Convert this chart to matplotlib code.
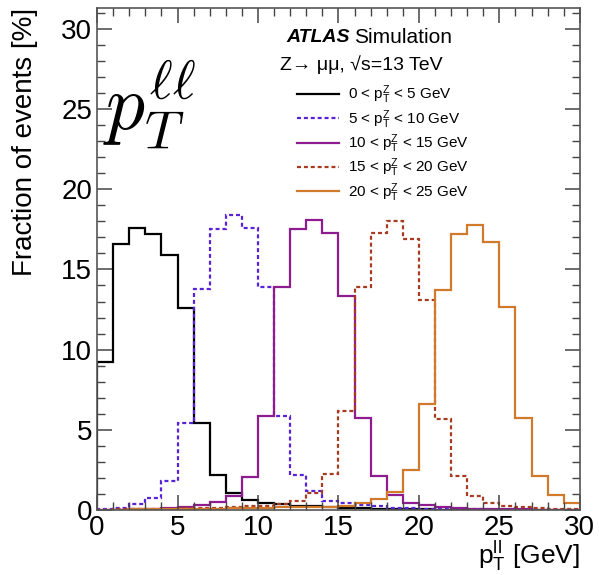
import numpy as np
import matplotlib
matplotlib.use('Agg')
import matplotlib.pyplot as plt

plt.rcParams['font.family'] = ['Liberation Sans', 'DejaVu Sans']
plt.rcParams['mathtext.fontset'] = 'custom'
plt.rcParams['mathtext.rm'] = 'Liberation Sans'
plt.rcParams['mathtext.it'] = 'Liberation Sans'

# bin edges, 1 GeV bins from 0 to 30
bin_edges = list(range(0, 31))

# fraction of events [%] per bin
frac_0_5 = [9.2, 16.6, 17.6, 17.2, 15.9, 12.6, 5.45, 2.2, 1.05, 0.6,
            0.45, 0.35, 0.27, 0.25, 0.2, 0.15, 0.1, 0.08, 0.06, 0.05,
            0.04, 0.03, 0.02, 0.02, 0.01, 0.01, 0.01, 0.01, 0.01, 0.01]
frac_5_10 = [0.06, 0.15, 0.35, 0.73, 1.84, 5.45, 13.8, 17.5, 18.4, 17.6,
             13.9, 5.85, 2.2, 1.2, 0.55, 0.44, 0.3, 0.25, 0.15, 0.1,
             0.08, 0.06, 0.05, 0.04, 0.03, 0.02, 0.02, 0.01, 0.01, 0.01]
frac_10_15 = [0.02, 0.03, 0.04, 0.06, 0.1, 0.2, 0.3, 0.5, 0.9, 2.05,
              5.85, 13.9, 17.5, 18.1, 17.3, 13.35, 5.75, 2.1, 0.96, 0.46,
              0.31, 0.17, 0.1, 0.08, 0.06, 0.05, 0.04, 0.03, 0.02, 0.02]
frac_15_20 = [0.03, 0.04, 0.05, 0.06, 0.08, 0.1, 0.12, 0.15, 0.18, 0.22,
              0.27, 0.35, 0.56, 1.04, 2.25, 6.2, 13.9, 17.3, 18.0, 16.9,
              13.1, 5.7, 2.15, 0.9, 0.42, 0.25, 0.17, 0.1, 0.06, 0.05]
frac_20_25 = [0.03, 0.03, 0.04, 0.05, 0.06, 0.07, 0.08, 0.09, 0.1, 0.12,
              0.14, 0.16, 0.18, 0.2, 0.2, 0.22, 0.42, 0.67, 1.1, 2.5,
              6.6, 13.7, 17.2, 17.8, 16.7, 12.65, 5.75, 2.15, 0.92, 0.42]

labels = [r'0 < p$_{\mathrm{T}}^{\mathrm{Z}}$ < 5 GeV',
          r'5 < p$_{\mathrm{T}}^{\mathrm{Z}}$ < 10 GeV',
          r'10 < p$_{\mathrm{T}}^{\mathrm{Z}}$ < 15 GeV',
          r'15 < p$_{\mathrm{T}}^{\mathrm{Z}}$ < 20 GeV',
          r'20 < p$_{\mathrm{T}}^{\mathrm{Z}}$ < 25 GeV']
series = [frac_0_5, frac_5_10, frac_10_15, frac_15_20, frac_20_25]
colors = ['black', '#5a22d8', '#8e1c8e', '#a83a22', '#d27a2c']
dotted = (0, (1.8, 1.3))
styles = ['-', dotted, '-', dotted, '-']

fig = plt.figure(figsize=(5.99, 5.75), dpi=100)
ax = fig.add_axes([0.162, 0.113, 0.806, 0.873])

for vals, col, ls, lab in zip(series, colors, styles, labels):
    ax.stairs(vals, bin_edges, color=col, linestyle=ls, linewidth=1.6, label=lab)

ax.set_xlim(0, 30)
ax.set_ylim(0, 31.3)
ax.set_xticks([0, 5, 10, 15, 20, 25, 30])
ax.set_yticks([0, 5, 10, 15, 20, 25, 30])
ax.set_xticks(range(0, 31), minor=True)
ax.set_yticks(range(0, 32), minor=True)
ax.tick_params(which='both', direction='in', top=True, right=True, labelsize=20, color='#444444')
ax.tick_params(which='major', length=11, width=1.1)
ax.tick_params(which='minor', length=6, width=1.0)
for sp in ax.spines.values():
    sp.set_color('#555555')
    sp.set_linewidth(1.2)

ax.set_ylabel('Fraction of events [%]', fontsize=20, loc='top', labelpad=17)
ax.set_xlabel(r'p$_{\mathrm{T}}^{\mathrm{ll}}$ [GeV]', fontsize=19, loc='right', labelpad=-1.5)

ax.text(0.012, 0.715, r'$p_T^{\ell\ell}$', transform=ax.transAxes, fontsize=56,
        math_fontfamily='cm', va='bottom', ha='left')

ax.text(0.393, 0.942, 'ATLAS', transform=ax.transAxes, fontsize=14,
        fontweight='bold', fontstyle='italic', va='center')
ax.text(0.533, 0.942, 'Simulation', transform=ax.transAxes, fontsize=15, va='center')
ax.text(0.378, 0.887, 'Z\u2192 \u03bc\u03bc, \u221as=13 TeV', transform=ax.transAxes,
        fontsize=14, va='center')

leg = ax.legend(loc='upper left', bbox_to_anchor=(0.391, 0.871), frameon=False, fontsize=11,
                handlelength=2.75, handletextpad=0.6, labelspacing=0.12, borderpad=0.2)

fig.savefig('out.png', dpi=100)
